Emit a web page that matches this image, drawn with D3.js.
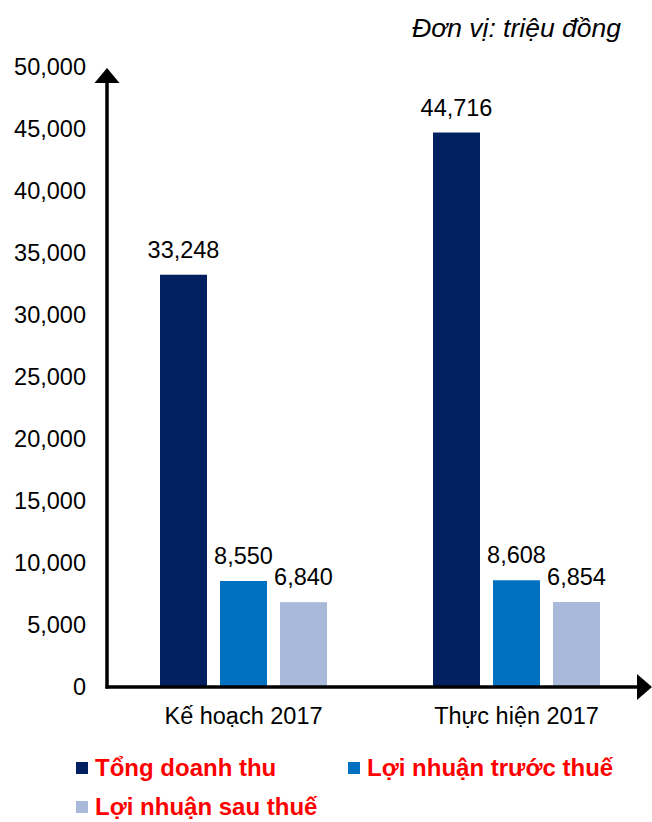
<!DOCTYPE html>
<html>
<head>
<meta charset="utf-8">
<script src="https://cdn.jsdelivr.net/npm/d3@7"></script>
<style>
  body { margin: 0; background: #fff; }
  text { font-family: "Liberation Sans", Arial, sans-serif; }
</style>
</head>
<body>
<div id="chart"></div>
<script>
// data
const categories = ["Kế hoạch 2017", "Thực hiện 2017"]
const series = ["Tổng doanh thu", "Lợi nhuận trước thuế", "Lợi nhuận sau thuế"]
const values = [
    [33248, 8550, 6840],
    [44716, 8608, 6854]
]
const yTicks = [0, 5000, 10000, 15000, 20000, 25000, 30000, 35000, 40000, 45000, 50000]
const colors = ["#002060", "#0070C0", "#A9B9D9"]

const width = 652
const height = 822
const originX = 107
const originY = 687

const svg = d3.select("div#chart").append("svg").attr("width", width).attr("height", height)

const x = d3.scaleBand().domain(categories).range([originX, 653]).padding(0)
const xSeries = d3.scaleBand().domain(series).range([-83.5, 83.5]).paddingInner(13 / 60).paddingOuter(0)
const y = d3.scaleLinear().domain([0, 50000]).range([originY, 67])
const fmt = d3.format(",")

// unit label
svg.append("text")
    .attr("x", 621).attr("y", 37)
    .attr("text-anchor", "end")
    .attr("font-style", "italic")
    .attr("font-size", 26.5)
    .text("Đơn vị: triệu đồng")

// y tick labels
const yAxis = d3.axisLeft(y).tickValues(yTicks).tickFormat(fmt).tickSize(0).tickPadding(21)
const yAxisGroup = svg.append("g").attr("transform", `translate(${originX},0)`).call(yAxis)
yAxisGroup.select(".domain").remove()
yAxisGroup.selectAll("text")
    .attr("font-family", "Liberation Sans, Arial, sans-serif")
    .attr("font-size", 23.5)
    .attr("fill", "#000")

// bars
const groups = svg.selectAll("g.group").data(categories).enter()
    .append("g").attr("class", "group")
    .attr("transform", d => `translate(${x(d) + x.bandwidth() / 2},0)`)

groups.selectAll("rect")
    .data((d, i) => values[i].map((v, j) => ({ s: series[j], v: v, c: colors[j] })))
    .enter().append("rect")
    .attr("x", d => xSeries(d.s))
    .attr("y", d => y(d.v))
    .attr("width", xSeries.bandwidth())
    .attr("height", d => originY - y(d.v))
    .attr("fill", d => d.c)

groups.selectAll("text.val")
    .data((d, i) => values[i].map((v, j) => ({ s: series[j], v: v })))
    .enter().append("text")
    .attr("class", "val")
    .attr("x", d => xSeries(d.s) + xSeries.bandwidth() / 2)
    .attr("y", d => y(d.v) - 17)
    .attr("text-anchor", "middle")
    .attr("font-size", 23.5)
    .text(d => fmt(d.v))

// category labels
const xAxis = d3.axisBottom(x).tickSize(0).tickPadding(20)
const xAxisGroup = svg.append("g").attr("transform", `translate(0,${originY})`).call(xAxis)
xAxisGroup.select(".domain").remove()
xAxisGroup.selectAll("text")
    .attr("font-family", "Liberation Sans, Arial, sans-serif")
    .attr("font-size", 23.5)
    .attr("fill", "#000")

// axes with arrows
svg.append("line")
    .attr("x1", originX).attr("y1", originY + 1.5)
    .attr("x2", originX).attr("y2", 82)
    .attr("stroke", "#000").attr("stroke-width", 3.5)
svg.append("path")
    .attr("d", `M${originX - 12.5},83 L${originX},68 L${originX + 12.5},83 Z`)
    .attr("fill", "#000")
svg.append("line")
    .attr("x1", originX - 1.5).attr("y1", originY)
    .attr("x2", 638).attr("y2", originY)
    .attr("stroke", "#000").attr("stroke-width", 3.5)
svg.append("path")
    .attr("d", `M637,${originY - 13} L652,${originY} L637,${originY + 13} Z`)
    .attr("fill", "#000")

// legend
const legendPos = [[76, 776], [348, 776], [76, 815]]
const legend = svg.selectAll("g.legend").data(series).enter()
    .append("g").attr("class", "legend")
    .attr("transform", (d, i) => `translate(${legendPos[i][0]},${legendPos[i][1]})`)
legend.append("rect")
    .attr("x", 0).attr("y", -14)
    .attr("width", 12).attr("height", 12)
    .attr("fill", (d, i) => colors[i])
legend.append("text")
    .attr("x", 19).attr("y", 0)
    .attr("font-size", 24)
    .attr("font-weight", "bold")
    .attr("fill", "#FF0000")
    .text(d => d)
</script>
</body>
</html>
